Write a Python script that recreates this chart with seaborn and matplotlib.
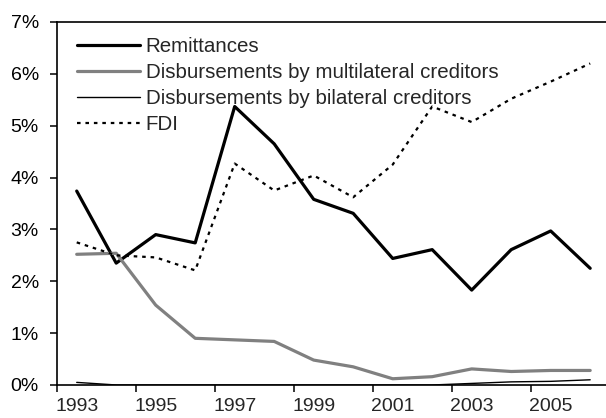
import pandas as pd
import seaborn as sns
import matplotlib.pyplot as plt
from matplotlib.ticker import PercentFormatter

# Data (share of GDP, %)
years = list(range(1993, 2007))
remittances = [3.74, 2.35, 2.90, 2.74, 5.37, 4.65, 3.58, 3.31, 2.44, 2.61, 1.83, 2.61, 2.97, 2.25]
multilateral = [2.52, 2.54, 1.54, 0.90, 0.87, 0.84, 0.48, 0.35, 0.12, 0.16, 0.31, 0.26, 0.28, 0.28]
bilateral = [0.05, 0.0, 0.0, 0.0, 0.0, 0.0, 0.0, 0.0, 0.0, 0.0, 0.03, 0.06, 0.07, 0.10]
fdi = [2.75, 2.50, 2.46, 2.21, 4.27, 3.75, 4.04, 3.62, 4.25, 5.37, 5.07, 5.52, 5.85, 6.20]

label_years = [1993, 1995, 1997, 1999, 2001, 2003, 2005]
y_ticks = [0, 1, 2, 3, 4, 5, 6, 7]

df = pd.DataFrame({
    'Year': years,
    'Remittances': remittances,
    'Disbursements by multilateral creditors': multilateral,
    'Disbursements by bilateral creditors': bilateral,
    'FDI': fdi,
})

sns.set_style('white')
plt.rcParams['font.family'] = ['Liberation Sans', 'DejaVu Sans']

fig = plt.figure(figsize=(6.06, 4.18), dpi=100)
ax = fig.add_axes([0.094, 0.079, 0.9125, 0.8684])

# colour, width, linestyle per series
styles = {
    'Remittances': ('black', 2.3, '-'),
    'Disbursements by multilateral creditors': ('#808080', 2.3, '-'),
    'Disbursements by bilateral creditors': ('black', 1.0, '-'),
    'FDI': ('black', 1.6, (0, (1.6, 2.2))),
}

for name, (col, lw, ls) in styles.items():
    sns.lineplot(data=df, x='Year', y=name, ax=ax, color=col, linewidth=lw,
                 linestyle=ls, label=name)

# category-style axis: tick marks between the years, labels under the points
ax.set_xlim(years[0] - 0.5, years[-1] + 0.5)
ax.set_ylim(0, 7)
ax.set_xticks([y - 0.5 for y in label_years])
ax.set_xticklabels([])
ax.set_xticks(label_years, minor=True)
ax.set_xticklabels([str(y) for y in label_years], minor=True)
ax.set_yticks(y_ticks)
ax.yaxis.set_major_formatter(PercentFormatter(decimals=0))

ax.set_xlabel('')
ax.set_ylabel('')
ax.tick_params(axis='both', which='major', direction='out', length=5, width=1.1,
               labelsize=14, colors='black', left=True, bottom=True)
ax.tick_params(axis='x', which='minor', length=0, labelsize=14, pad=9.5,
               bottom=True)
ax.tick_params(axis='y', pad=8)

for side in ['left', 'bottom', 'top']:
    ax.spines[side].set_visible(True)
    ax.spines[side].set_color('black')
    ax.spines[side].set_linewidth(1.2)
ax.spines['right'].set_visible(False)

ax.legend(loc='upper left', bbox_to_anchor=(0.036, 0.958), frameon=False,
          fontsize=14.8, handlelength=3.05, handletextpad=0.3, labelspacing=0.34,
          borderpad=0, borderaxespad=0)

fig.savefig('out.png', dpi=100)
